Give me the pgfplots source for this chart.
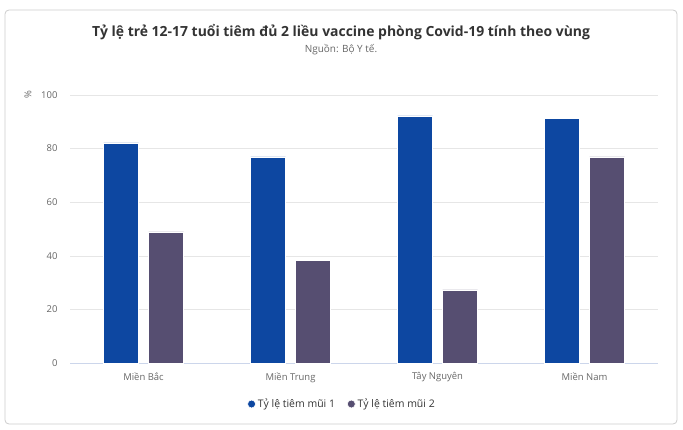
\documentclass[border=0pt]{standalone}
\usepackage{pgfplots}
\pgfplotsset{compat=1.18}
\usepackage{fontspec}
\setmainfont{Open Sans}

\definecolor{muiA}{HTML}{0D47A1}
\definecolor{muiB}{HTML}{564E71}
\definecolor{gridc}{HTML}{E6E6E6}
\definecolor{basec}{HTML}{CCD6EB}
\definecolor{txt}{HTML}{333333}
\definecolor{sub}{HTML}{666666}
\definecolor{frame}{HTML}{CCCCCC}

\begin{document}
\begin{tikzpicture}[x=1bp,y=1bp]
% page = 683 x 429 px, 1px = 1bp
\path (0,0) rectangle (683,429);
\draw[frame, line width=0.8bp, rounded corners=4bp] (5,5) rectangle (677,419);

\node[font=\bfseries\fontsize{14}{17}\selectfont, text=txt] at (341,397)
  {Tỷ lệ trẻ 12-17 tuổi tiêm đủ 2 liều vaccine phòng Covid-19 tính theo vùng};
\node[font=\fontsize{10}{12}\selectfont, text=sub] at (341,379) {Nguồn: Bộ Y tế.};
\node[font=\fontsize{9.5}{12}\selectfont, text=sub, rotate=90] at (28,334) {\%};

\begin{axis}[
    at={(70bp,66bp)}, anchor=south west,
    scale only axis, width=588bp, height=268bp,
    xmin=-0.5, xmax=3.5, ymin=0, ymax=100,
    ybar=10bp, bar width=35bp,
    xtick=data,
    xticklabels={Miền Bắc, Miền Trung, Tây Nguyên, Miền Nam},
    ytick={0,20,40,60,80,100},
    major tick length=0pt,
    axis x line=bottom, axis y line=left,
    x axis line style={draw=basec, line width=0.8bp, -},
    y axis line style={draw=none},
    ymajorgrids, grid style={gridc, line width=0.6bp},
    tick label style={font=\fontsize{9.5}{12}\selectfont, text=sub},
    yticklabel style={anchor=east, xshift=-9bp},
    xticklabel style={yshift=-6bp},
    /pgf/number format/assume math mode=true,
    legend style={at={(0.4626,-0.153)}, anchor=center, draw=none, fill=none,
        legend columns=2, font=\fontsize{10.5}{13}\selectfont, text=txt,
        /tikz/every even column/.append style={column sep=10bp}},
    legend image code/.code={\fill[#1] (3bp,0bp) circle (4bp);},
]
\addplot[fill=muiA, draw=white, line width=0.6bp] coordinates {
    (0,82.1) (1,76.9) (2,92.2) (3,91.4)
};
\addplot[fill=muiB, draw=white, line width=0.6bp] coordinates {
    (0,48.9) (1,38.4) (2,27.3) (3,76.9)
};
\legend{Tỷ lệ tiêm mũi 1, Tỷ lệ tiêm mũi 2}
\end{axis}
\end{tikzpicture}
\end{document}
